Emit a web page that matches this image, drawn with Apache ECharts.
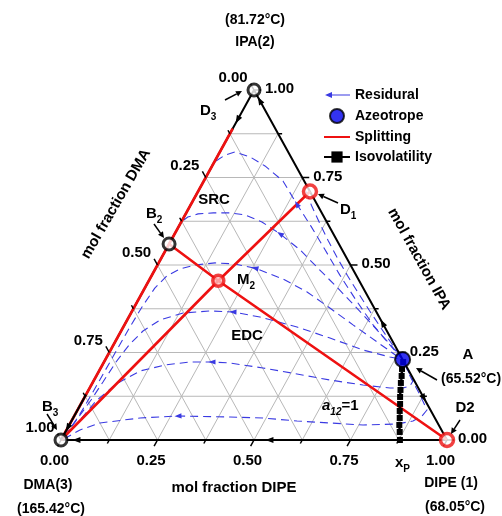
<!DOCTYPE html>
<html>
<head>
<meta charset="utf-8">
<script src="https://cdn.jsdelivr.net/npm/echarts@6/dist/echarts.min.js"></script>
<style>html,body{margin:0;padding:0;background:#fff;}#chart{width:502px;height:516px;}</style>
</head>
<body>
<div id="chart"></div>
<script>
const FONT = '"Liberation Sans", Arial, Helvetica, sans-serif';

// ---------- DATA (ternary compositions [x_DIPE, x_IPA]; x_DMA = 1 - x_DIPE - x_IPA) ----------
const tickValues = [0, 0.125, 0.25, 0.375, 0.5, 0.625, 0.75, 0.875, 1];
const tickLabels = ['0.00', '', '0.25', '', '0.50', '', '0.75', '', '1.00'];
const gridFractions = [0.125, 0.25, 0.375, 0.5, 0.625, 0.75, 0.875];

const azeotropeA = [0.77, 0.23];
const pointD1 = [0.29, 0.71];
const pointD2 = [1.0, 0.0];
const pointD3 = [0.0, 1.0];
const pointB2 = [0.0, 0.56];
const pointB3 = [0.0, 0.0];
const pointM2 = [0.18, 0.455];

const residue0 = [[0.28,0.71],[0.314,0.67],[0.36,0.62],[0.407,0.57],[0.456,0.52],[0.507,0.47],[0.56,0.42],[0.614,0.37],[0.669,0.32],[0.725,0.27],[0.77,0.23]];
const residue1 = [[0.003,0.797],[0.018,0.814],[0.039,0.823],[0.085,0.809],[0.137,0.783],[0.205,0.740],[0.274,0.674],[0.342,0.611],[0.413,0.543],[0.487,0.471],[0.564,0.400],[0.644,0.329],[0.717,0.271],[0.77,0.23]];
const residue2 = [[0,0.566],[0,0.623],[0.010,0.637],[0.032,0.646],[0.070,0.649],[0.114,0.649],[0.155,0.643],[0.209,0.623],[0.273,0.589],[0.348,0.543],[0.416,0.494],[0.496,0.437],[0.578,0.377],[0.662,0.314],[0.737,0.257],[0.77,0.23]];
const residue3 = [[0.005,0.011],[0.012,0.071],[0.014,0.129],[0.015,0.194],[0.016,0.257],[0.017,0.32],[0.02,0.383],[0.026,0.434],[0.040,0.469],[0.064,0.489],[0.097,0.500],[0.146,0.506],[0.199,0.503],[0.257,0.491],[0.345,0.460],[0.426,0.423],[0.508,0.377],[0.592,0.329],[0.679,0.280],[0.750,0.240],[0.77,0.23]];
const residue4 = [[0.0035,0.0086],[0.0126,0.0629],[0.0206,0.1143],[0.0259,0.1657],[0.0311,0.2229],[0.0405,0.2714],[0.0567,0.3114],[0.0851,0.3429],[0.1347,0.3629],[0.2017,0.3686],[0.2627,0.3657],[0.3398,0.3514],[0.45,0.3229],[0.5512,0.2914],[0.6538,0.2571],[0.7337,0.2371],[0.77,0.23]];
const residue5 = [[0.005,0.0057],[0.0206,0.0571],[0.035,0.1114],[0.0625,0.16],[0.1061,0.1971],[0.1623,0.2143],[0.2228,0.2229],[0.2798,0.2229],[0.3278,0.22],[0.4204,0.2057],[0.5171,0.1886],[0.6112,0.1714],[0.7038,0.1571],[0.778,0.1486],[0.8117,0.1486],[0.827,0.1543],[0.8276,0.1686],[0.798,0.2],[0.77,0.23]];
const residue6 = [[0.0064,0.0029],[0.0349,0.0286],[0.0767,0.0486],[0.1733,0.0629],[0.2688,0.0686],[0.4049,0.0657],[0.4919,0.0629],[0.5843,0.0543],[0.6726,0.0486],[0.761,0.0429],[0.8476,0.0457],[0.8848,0.0543],[0.9009,0.0686],[0.9053,0.0857],[0.8657,0.1286],[0.8181,0.1771],[0.77,0.23]];
const residueCurves = [residue0, residue1, residue2, residue3, residue4, residue5, residue6];
// arrows on residue curves: [curve index, point index]; arrow points toward the previous point (towards DMA)
const residueArrows = [[1,6],[2,8],[3,13],[4,10],[5,7],[6,4]];

// arrows on the binary edges: position and the vertex they point to
const edgeArrowAt = [[0,0.915],[0,0.035],[0.54,0],[0.04,0],[0.03,0.97],[0.666,0.334],[0.88,0.12]];
const edgeArrowTo = [[0,0],[0,0],[0,0],[0,0],[0,1],[0,1],[1,0]];

const splitLeftEdge = [pointB3, [0, 0.89]];
const splitB2D2 = [pointB2, pointM2, pointD2];
const splitD1B3 = [pointD1, pointM2, pointB3];
const edgeOverlay = [[0, 0.13], [0, 0]];

const isoDIPE = [0.775,0.782,0.791,0.799,0.808,0.817,0.827,0.836,0.846,0.855,0.866,0.878];
const isoIPA  = [0.223,0.203,0.183,0.163,0.143,0.123,0.103,0.083,0.063,0.043,0.023,0.0];

// ---------- helpers ----------
function tern(p) { return [p[0] + p[1] / 2, p[1]]; }
function unit(x, y) { const n = Math.hypot(x, y) || 1; return [x / n, y / n]; }

const gridSegments = [];
gridFractions.forEach(f => {
  gridSegments.push([...tern([0, f]), ...tern([1 - f, f])]);
  gridSegments.push([...tern([f, 0]), ...tern([f, 1 - f])]);
  gridSegments.push([...tern([1 - f, 0]), ...tern([0, 1 - f])]);
});

const tickData = [];
[0, 1, 2].forEach(a => tickValues.forEach((v, k) => tickData.push([a, v, k])));

function arrowRender(color, len, half) {
  return function (params, api) {
    const p = api.coord([api.value(0), api.value(1)]);
    const q = api.coord([api.value(2), api.value(3)]);
    const u = unit(q[0] - p[0], q[1] - p[1]);
    const tip = [p[0] + u[0] * len / 2, p[1] + u[1] * len / 2];
    const base = [p[0] - u[0] * len / 2, p[1] - u[1] * len / 2];
    return { type: 'polygon', shape: { points: [tip, [base[0] - u[1] * half, base[1] + u[0] * half], [base[0] + u[1] * half, base[1] - u[0] * half]] }, style: { fill: color } };
  };
}

function annArrow(x1, y1, x2, y2) {
  const u = unit(x2 - x1, y2 - y1), s = 6, w = 3;
  const bx = x2 - u[0] * s, by = y2 - u[1] * s;
  return [
    { type: 'line', z: 20, shape: { x1, y1, x2: bx, y2: by }, style: { stroke: '#000', lineWidth: 1.5 } },
    { type: 'polygon', z: 20, shape: { points: [[x2, y2], [bx - u[1] * w, by + u[0] * w], [bx + u[1] * w, by - u[0] * w]] }, style: { fill: '#000' } }
  ];
}

const subRich = {
  b: { fontSize: 15, fontWeight: 'bold', fontFamily: FONT, lineHeight: 16, verticalAlign: 'top', fill: '#000' },
  s: { fontSize: 10, fontWeight: 'bold', fontFamily: FONT, lineHeight: 10, padding: [9, 0, 0, 0], verticalAlign: 'top', fill: '#000' },
  i: { fontSize: 15, fontStyle: 'italic', fontWeight: 'bold', fontFamily: FONT, lineHeight: 16, verticalAlign: 'top', fill: '#000' },
  si: { fontSize: 10, fontStyle: 'italic', fontWeight: 'bold', fontFamily: FONT, lineHeight: 10, padding: [9, 0, 0, 0], verticalAlign: 'top', fill: '#000' }
};

function txt(text, x, y, opts) {
  return { type: 'text', x, y, z: 20, rotation: (opts && opts.rotation) || 0,
    style: Object.assign({ text, font: 'bold 14px ' + FONT, fill: '#000', align: 'center', verticalAlign: 'middle' }, (opts && opts.style) || {}) };
}
function subTxt(text, x, y) {
  return { type: 'text', x, y, z: 20, style: { text, rich: subRich, align: 'left', verticalAlign: 'middle' } };
}

const RES_COLOR = '#3a3ae2';
const RED = '#ee1111';
const series = [];

series.push({
  type: 'custom', name: 'grid', silent: true, z: 1, data: gridSegments, encode: { x: [0, 2], y: [1, 3] },
  renderItem(params, api) {
    const p1 = api.coord([api.value(0), api.value(1)]);
    const p2 = api.coord([api.value(2), api.value(3)]);
    return { type: 'line', shape: { x1: p1[0], y1: p1[1], x2: p2[0], y2: p2[1] }, style: { stroke: '#b8b8b8', lineWidth: 1 } };
  }
});

residueCurves.forEach(c => series.push({
  type: 'line', name: 'Residural', data: c.map(tern), symbol: 'none', silent: true, z: 2,
  lineStyle: { color: RES_COLOR, width: 1.1, type: [8, 5] }, itemStyle: { color: RES_COLOR }
}));

series.push({
  type: 'line', name: 'edges', data: [pointB3, pointD2, pointD3, pointB3].map(tern), symbol: 'none', silent: true, z: 3,
  lineStyle: { color: '#000', width: 2 }
});

[splitLeftEdge, splitB2D2, splitD1B3].forEach(s => series.push({
  type: 'line', name: 'Splitting', data: s.map(tern), symbol: 'none', silent: true, z: 4,
  lineStyle: { color: RED, width: 2.6 }, itemStyle: { color: RED }
}));

series.push({
  type: 'line', name: 'edgeOverlay', data: edgeOverlay.map(tern), symbol: 'none', silent: true, z: 5,
  lineStyle: { color: '#000', width: 2 }
});

series.push({
  type: 'line', name: 'Isovolatility', data: isoDIPE.map((d, i) => tern([d, isoIPA[i]])), symbol: 'rect', symbolSize: 6, showAllSymbol: true, silent: true, z: 6,
  lineStyle: { color: '#000', width: 2.5, type: [3, 2] }, itemStyle: { color: '#000' }
});

series.push({
  type: 'custom', name: 'resArrows', silent: true, z: 5,
  data: residueArrows.map(([c, k]) => [...tern(residueCurves[c][k]), ...tern(residueCurves[c][k - 1])]),
  encode: { x: [0, 2], y: [1, 3] }, renderItem: arrowRender(RES_COLOR, 7, 2.6)
});
series.push({
  type: 'custom', name: 'edgeArrows', silent: true, z: 7,
  data: edgeArrowAt.map((p, i) => [...tern(p), ...tern(edgeArrowTo[i])]),
  encode: { x: [0, 2], y: [1, 3] }, renderItem: arrowRender('#000', 8, 3)
});

series.push({
  type: 'custom', name: 'ticks', silent: true, z: 7, data: tickData, encode: { x: 1, y: 1 },
  renderItem(params, api) {
    const a = api.value(0), v = api.value(1), k = api.value(2);
    const L = api.coord([0, 0]), R = api.coord([1, 0]), T = api.coord([0.5, 1]);
    let p, d;
    if (a === 0) { p = api.coord(tern([v, 0])); d = unit(L[0] - T[0], L[1] - T[1]); }
    else if (a === 1) { p = api.coord(tern([0, 1 - v])); d = unit(T[0] - R[0], T[1] - R[1]); }
    else { p = api.coord(tern([1 - v, v])); d = unit(R[0] - L[0], R[1] - L[1]); }
    const major = tickLabels[k] !== '';
    const len = major ? 7 : 4;
    const e = [p[0] + d[0] * len, p[1] + d[1] * len];
    const children = [{ type: 'line', shape: { x1: p[0], y1: p[1], x2: e[0], y2: e[1] }, style: { stroke: '#000', lineWidth: 1.5 } }];
    if (major) {
      let tx, ty, align;
      if (a === 0) { tx = e[0] - 3; ty = e[1] + 15; align = 'center'; }
      else if (a === 1) { tx = e[0] - 3; ty = e[1] - 6; align = 'right'; }
      else { tx = e[0] + 4; ty = e[1] - 1; align = 'left'; }
      children.push({ type: 'text', x: tx, y: ty, style: { text: tickLabels[k], font: 'bold 15px ' + FONT, fill: '#000', align, verticalAlign: 'middle' } });
    }
    return { type: 'group', children };
  }
});

series.push({
  type: 'scatter', name: 'blackPoints', data: [pointD3, pointB2, pointB3].map(tern), symbol: 'circle', symbolSize: 12, silent: true, z: 8,
  itemStyle: { color: '#fff', borderColor: '#000', borderWidth: 3 }
});
series.push({
  type: 'scatter', name: 'redPoints', data: [pointD1, pointD2].map(tern), symbol: 'circle', symbolSize: 13, silent: true, z: 8,
  itemStyle: { color: '#fff', borderColor: RED, borderWidth: 3.5 }
});
series.push({
  type: 'scatter', name: 'mixPoint', data: [pointM2].map(tern), symbol: 'circle', symbolSize: 11, silent: true, z: 8,
  itemStyle: { color: '#ffc0c0', borderColor: RED, borderWidth: 3.5 }
});
series.push({
  type: 'scatter', name: 'Azeotrope', data: [azeotropeA].map(tern), symbol: 'circle', symbolSize: 15, silent: true, z: 9,
  itemStyle: { color: '#0000ee', borderColor: '#000', borderWidth: 2 }
});

const graphic = [
  txt('(81.72°C)', 255, 20),
  txt('IPA(2)', 255, 42),
  subTxt('{b|D}{s|3}', 200, 111),
  txt('SRC', 214, 200, { style: { font: 'bold 15px ' + FONT } }),
  subTxt('{b|B}{s|2}', 146, 214),
  subTxt('{b|M}{s|2}', 237, 280),
  txt('EDC', 247, 336, { style: { font: 'bold 15px ' + FONT } }),
  subTxt('{b|B}{s|3}', 42, 407),
  txt('A', 468, 355, { style: { font: 'bold 15px ' + FONT } }),
  txt('(65.52°C)', 441, 379, { style: { align: 'left' } }),
  txt('D2', 465, 408, { style: { font: 'bold 15px ' + FONT } }),
  subTxt('{b|D}{s|1}', 340, 210),
  subTxt('{b|x}{s|P}', 395, 463),
  subTxt('{i|a}{si|12}{b|=1}', 322, 406),
  txt('DMA(3)', 48, 485),
  txt('(165.42°C)', 51, 509),
  txt('mol fraction DIPE', 234, 488, { style: { font: 'bold 15px ' + FONT } }),
  txt('DIPE (1)', 451, 483),
  txt('(68.05°C)', 455, 507),
  txt('mol fraction DMA', 116, 204, { rotation: 60 * Math.PI / 180, style: { font: 'bold 15px ' + FONT } }),
  txt('mol fraction IPA', 419, 259, { rotation: -61 * Math.PI / 180, style: { font: 'bold 15px ' + FONT } }),
  ...annArrow(225, 100, 242, 91),
  ...annArrow(154, 224, 164, 238),
  ...annArrow(47, 414, 57, 430),
  ...annArrow(437, 380, 416, 368),
  ...annArrow(460, 420, 451, 434),
  ...annArrow(338, 203, 318, 194)
];

const residualIcon = 'path://M0,0 L0.1,0 L0.1,0.1 Z M26,14 L25.9,14 L25.9,13.9 Z M1,7 L8,4 L8,6.4 L26,6.4 L26,7.6 L8,7.6 L8,10 Z';

const chart = echarts.init(document.getElementById('chart'), null, { renderer: 'canvas' });
chart.setOption({
  animation: false,
  backgroundColor: '#fff',
  grid: { left: 61, right: 55, top: 90, bottom: 76, containLabel: false },
  xAxis: { type: 'value', min: 0, max: 1, show: false },
  yAxis: { type: 'value', min: 0, max: 1, show: false },
  legend: {
    data: [
      { name: 'Residural', icon: residualIcon, itemStyle: { color: RES_COLOR } },
      { name: 'Azeotrope' },
      { name: 'Splitting', itemStyle: { opacity: 0 }, lineStyle: { width: 2 } },
      { name: 'Isovolatility', lineStyle: { type: 'solid', width: 2 } }
    ],
    orient: 'vertical', left: 318, top: 83, itemWidth: 26, itemHeight: 14, itemGap: 6, selectedMode: false,
    textStyle: { fontFamily: FONT, fontWeight: 'bold', fontSize: 14, color: '#000' }
  },
  graphic,
  series
});
</script>
</body>
</html>
